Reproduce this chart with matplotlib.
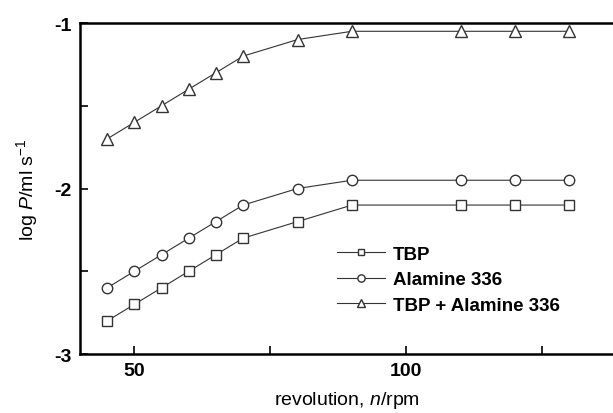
import matplotlib.pyplot as plt
import numpy as np

plt.rcParams['font.family'] = ['Liberation Sans', 'DejaVu Sans']
plt.rcParams['mathtext.fontset'] = 'custom'
plt.rcParams['mathtext.it'] = 'Liberation Sans:italic'
plt.rcParams['mathtext.rm'] = 'Liberation Sans'

# revolution speed (rpm)
rpm = [45, 50, 55, 60, 65, 70, 80, 90, 110, 120, 130]

# log P values for each extractant
tbp = [-2.8, -2.7, -2.6, -2.5, -2.4, -2.3, -2.2, -2.1, -2.1, -2.1, -2.1]
alamine = [-2.6, -2.5, -2.4, -2.3, -2.2, -2.1, -2.0, -1.95, -1.95, -1.95, -1.95]
mixed = [-1.7, -1.6, -1.5, -1.4, -1.3, -1.2, -1.1, -1.05, -1.05, -1.05, -1.05]

labels = ['TBP', 'Alamine 336', 'TBP + Alamine 336']
markers = ['s', 'o', '^']
msizes = [6.5, 7.5, 8.5]

fig = plt.figure(figsize=(6.13, 4.14), dpi=100)
ax = fig.add_axes([0.1305, 0.1425, 0.8695, 0.7995])

for y, lab, m, ms in zip([tbp, alamine, mixed], labels, markers, msizes):
    ax.plot(rpm, y, marker=m, color='#333333', linewidth=0.8,
            markersize=ms, markerfacecolor='white', markeredgewidth=1.0,
            label=lab)

ax.set_xlim(40, 138)
ax.set_ylim(-3, -1)
ax.set_xticks([50, 100])
ax.set_xticks([75, 125], minor=True)
ax.set_yticks([-3, -2, -1])
ax.set_yticklabels(['-3', '-2', '-1'])
ax.set_yticks([-2.5, -1.5], minor=True)
ax.tick_params(which='both', direction='in', width=1.2)
ax.tick_params(which='major', length=6, labelsize=14, pad=6)
ax.tick_params(which='minor', length=6)
for t in ax.get_xticklabels() + ax.get_yticklabels():
    t.set_fontweight('bold')
for s in ['left', 'bottom', 'top']:
    ax.spines[s].set_linewidth(1.8)
ax.spines['right'].set_visible(False)

ax.set_xlabel('revolution, $n$/rpm', fontsize=14, labelpad=7)
ax.set_ylabel('log $P$/ml s$^{-1}$', fontsize=14, labelpad=10)

leg = ax.legend(loc='center left', bbox_to_anchor=(0.45, 0.225), frameon=False,
                prop={'weight': 'bold', 'size': 13.5}, handlelength=2.6,
                markerscale=0.7, labelspacing=0.45, handletextpad=0.4)

fig.savefig('out.png', dpi=100)
